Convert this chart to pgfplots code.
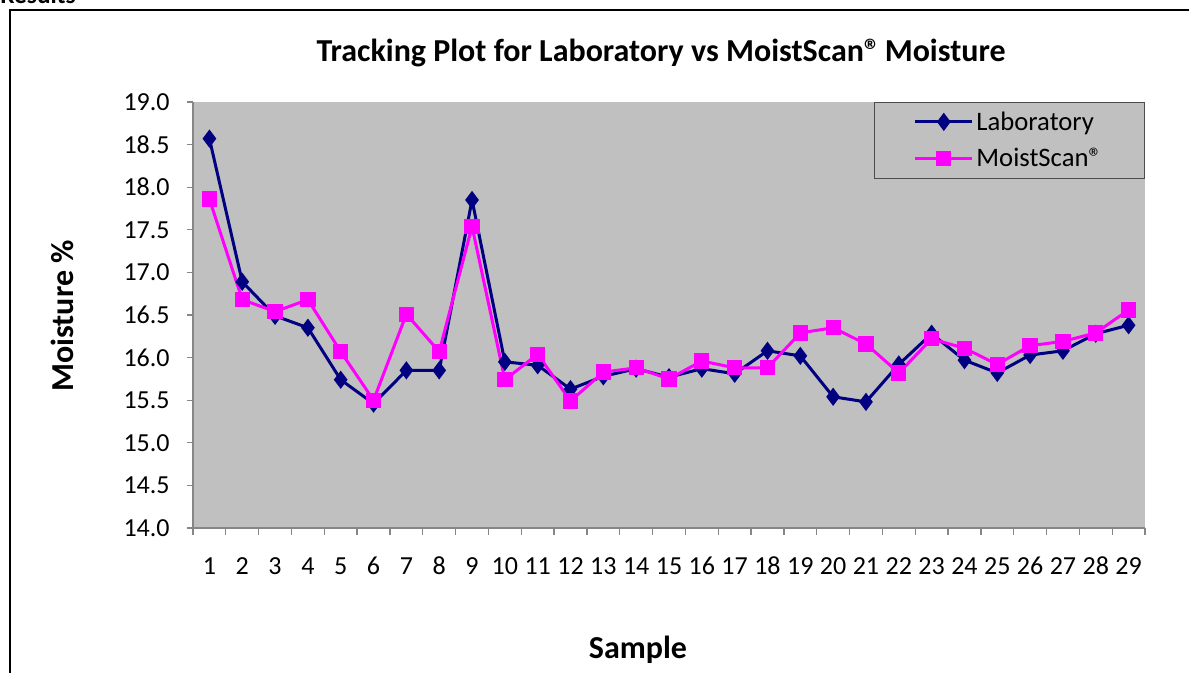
\documentclass[border=0pt]{standalone}
\usepackage{pgfplots}
\pgfplotsset{compat=1.18}
\usepackage{fontspec}
\setmainfont{Carlito}
\definecolor{bg}{HTML}{C0C0C0}
\definecolor{lab}{HTML}{000080}
\definecolor{ms}{HTML}{FF00FF}
\definecolor{axgray}{HTML}{868686}
\begin{document}
\begin{tikzpicture}[x=0.75pt,y=0.75pt]
\useasboundingbox (0,0) rectangle (1189,672);
\begin{scope}
\clip (0,0) rectangle (1189,672);
\draw[line width=1.5pt] (10,-20) -- (10,662) -- (1250,662);
\node[anchor=base west,inner sep=0pt,font=\bfseries\fontsize{19}{22}\selectfont] at (0,668) {Results};
\end{scope}
\node[font=\bfseries\fontsize{24}{28}\selectfont] at (661,619) {Tracking Plot for Laboratory vs MoistScan®\kern-2pt\ Moisture};
\node[rotate=90,font=\bfseries\fontsize{24}{28}\selectfont] at (62,356) {Moisture \%};
\node[font=\bfseries\fontsize{24}{28}\selectfont] at (638,22) {Sample};
\begin{axis}[
  at={(144.75pt,108pt)}, anchor=south west,
  width=714pt, height=319.5pt, scale only axis,
  xmin=0.5, xmax=29.5, ymin=14, ymax=19,
  axis background/.style={fill=bg},
  axis x line*=bottom, axis y line*=left,
  axis line style={axgray, line width=1.5pt},
  tick align=outside,
  xtick={1,...,29},
  minor xtick={0.5,1.5,...,29.5},
  major x tick style={draw=none},
  minor x tick style={axgray, line width=1pt},
  minor tick length=5.25pt,
  ytick={14,14.5,...,19},
  major y tick style={axgray, line width=1pt},
  major tick length=4.5pt,
  yticklabel style={xshift=-9.5pt, /pgf/number format/.cd, fixed, fixed zerofill, precision=1},
  /pgf/number format/assume math mode=true,
  tick label style={font=\fontsize{19.5}{22}\selectfont},
  xticklabel style={yshift=-17pt, text height=10pt, text depth=0pt},
  legend style={at={(rel axis cs:1,1)}, anchor=north east, fill=bg, draw=black!70,
     inner xsep=30pt, inner ysep=5pt, font=\fontsize{20}{22}\selectfont, row sep=8pt},
  legend cell align=left,
  legend image code/.code={\draw[mark repeat=2,mark phase=2,#1] plot coordinates {(0cm,0cm)(0.75cm,0cm)(1.5cm,0cm)};},
]
\addplot[lab, line width=2.25pt, mark=diamond*, mark size=5pt, mark options={solid}] coordinates {
(1,18.57)(2,16.89)(3,16.49)(4,16.35)(5,15.74)(6,15.46)(7,15.85)(8,15.85)(9,17.85)(10,15.95)
(11,15.91)(12,15.63)(13,15.78)(14,15.87)(15,15.77)(16,15.87)(17,15.81)(18,16.08)(19,16.02)(20,15.54)
(21,15.48)(22,15.92)(23,16.28)(24,15.97)(25,15.82)(26,16.03)(27,16.08)(28,16.28)(29,16.38)};
\addlegendentry{Laboratory}
\addplot[ms, line width=2.25pt, mark=square*, mark size=4.6pt, mark options={solid}] coordinates {
(1,17.86)(2,16.68)(3,16.54)(4,16.68)(5,16.07)(6,15.50)(7,16.51)(8,16.07)(9,17.54)(10,15.74)
(11,16.04)(12,15.49)(13,15.83)(14,15.88)(15,15.75)(16,15.96)(17,15.88)(18,15.88)(19,16.29)(20,16.35)
(21,16.16)(22,15.82)(23,16.22)(24,16.11)(25,15.92)(26,16.14)(27,16.19)(28,16.29)(29,16.56)};
\addlegendentry{MoistScan®}
\end{axis}
\end{tikzpicture}
\end{document}
